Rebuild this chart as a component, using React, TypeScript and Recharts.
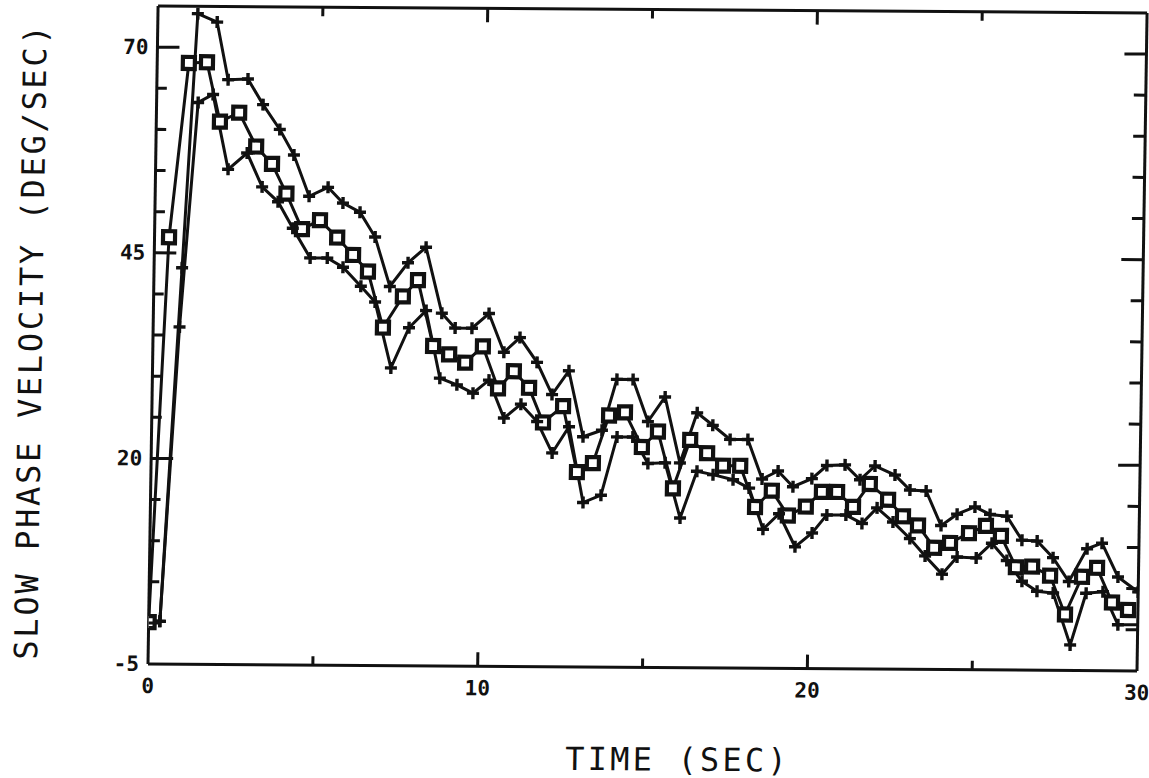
import React from 'react';
import { LineChart, Line, XAxis, YAxis } from 'recharts';

// slow phase eye velocity traces, sampled roughly every half second
const upperTime = [0.34, 0.85, 1.21, 1.8, 2.16, 2.76, 3.23, 3.75, 4.19, 4.67, 5.24, 5.7, 6.22, 6.69, 7.16, 7.7, 8.24, 8.75, 9.16, 9.67, 10.18, 10.65, 11.13, 11.66, 12.13, 12.63, 13.09, 13.66, 14.09, 14.58, 15.05, 15.56, 16.04, 16.54, 17.02, 17.55, 18.09, 18.54, 19.02, 19.48, 20.05, 20.5, 21.05, 21.51, 21.96, 22.57, 23.03, 23.52, 23.99, 24.47, 25.01, 25.47, 25.98, 26.45, 26.91, 27.4, 27.89, 28.43, 28.88, 29.38, 30.0];
const upperVel = [0.2, 43.2, 74.1, 73.1, 66.1, 66.2, 63.1, 60.1, 57.0, 52.0, 53.1, 51.2, 50.1, 47.1, 41.1, 44.0, 45.9, 37.9, 36.1, 36.1, 37.9, 33.2, 35.0, 32.0, 28.1, 31.0, 23.0, 23.8, 30.0, 30.0, 24.9, 27.9, 19.9, 26.0, 24.5, 22.8, 22.8, 18.0, 19.0, 17.1, 18.1, 19.7, 19.8, 18.0, 19.7, 18.6, 16.8, 16.7, 12.5, 13.9, 14.8, 13.9, 13.7, 10.8, 10.7, 8.7, 5.8, 9.8, 10.5, 6.4, 4.6];

const midTime = [0, 0.44, 0.96, 1.51, 1.93, 2.51, 3.04, 3.53, 3.98, 4.47, 5.01, 5.54, 6.03, 6.49, 6.97, 7.56, 8.01, 8.5, 8.99, 9.48, 10.01, 10.49, 10.96, 11.43, 11.87, 12.47, 12.92, 13.4, 13.87, 14.35, 14.88, 15.36, 15.84, 16.34, 16.86, 17.35, 17.87, 18.34, 18.84, 19.34, 19.88, 20.36, 20.82, 21.31, 21.81, 22.37, 22.83, 23.29, 23.79, 24.27, 24.84, 25.35, 25.81, 26.28, 26.77, 27.32, 27.79, 28.29, 28.74, 29.21, 29.7];
const midVel = [0.1, 46.9, 68.1, 68.2, 61.0, 62.1, 58.0, 55.9, 52.3, 48.0, 49.1, 47.0, 44.9, 42.9, 36.1, 39.9, 41.9, 33.9, 32.9, 31.9, 33.9, 28.8, 30.9, 28.9, 24.7, 26.7, 18.7, 19.8, 25.6, 26.0, 21.8, 23.7, 16.8, 22.7, 21.1, 19.6, 19.6, 14.6, 16.6, 13.6, 14.7, 16.5, 16.5, 14.7, 17.5, 15.6, 13.6, 12.5, 9.8, 10.4, 11.6, 12.5, 11.3, 7.5, 7.6, 6.5, 1.8, 6.4, 7.5, 3.3, 2.4];

const lowerTime = [0.34, 0.8, 1.26, 1.71, 2.2, 2.77, 3.24, 3.73, 4.19, 4.73, 5.25, 5.73, 6.28, 6.72, 7.23, 7.76, 8.27, 8.72, 9.24, 9.73, 10.21, 10.68, 11.19, 11.69, 12.16, 12.66, 13.12, 13.66, 14.12, 14.6, 15.07, 15.59, 16.07, 16.56, 17.05, 17.66, 18.15, 18.59, 19.07, 19.57, 20.08, 20.52, 21.1, 21.59, 22.04, 22.53, 23.05, 23.52, 24.04, 24.49, 25.07, 25.54, 26.0, 26.47, 26.93, 27.42, 27.96, 28.42, 28.93, 29.4, 30.0];
const lowerVel = [0.2, 36.0, 63.3, 64.3, 55.2, 57.2, 53.1, 51.3, 48.1, 44.5, 44.5, 43.4, 41.1, 39.2, 31.2, 36.1, 38.2, 30.0, 29.2, 28.2, 29.8, 25.2, 26.9, 24.8, 21.0, 24.2, 15.0, 15.9, 23.0, 23.0, 19.8, 19.9, 13.2, 18.9, 18.5, 17.9, 16.9, 11.9, 13.8, 9.8, 11.5, 13.7, 13.7, 12.7, 14.6, 12.9, 10.9, 8.8, 6.6, 8.7, 8.6, 10.4, 8.3, 5.8, 4.6, 4.4, -1.9, 4.4, 4.6, 0.6, 0.6];

const xTicks = [0, 5, 10, 15, 20, 25, 30];
const xLabels = [0, 10, 20, 30];
const yTicks = [0, 5, 10, 15, 20, 25, 30, 35, 40, 45, 50, 55, 60, 65, 70];
const yLabels = [-5, 20, 45, 70];

const toSeries = (ts: number[], vs: number[]) => ts.map((t, i) => ({ t, v: vs[i] }));
const upper = toSeries(upperTime, upperVel);
const middle = toSeries(midTime, midVel);
const lower = toSeries(lowerTime, lowerVel);

const INK = '#111';
const MONO = '"DejaVu Sans Mono", "Liberation Mono", monospace';
const frame = { stroke: INK, strokeWidth: 3 };

const PlusDot = (p: any) => {
  const { cx, cy, index, skipLast, count } = p;
  if (cx == null || cy == null) return <g key={index} />;
  if (skipLast && index === count - 1) return <g key={index} />;
  return (
    <g key={index}>
      <line x1={cx - 6} y1={cy} x2={cx + 6} y2={cy} stroke={INK} strokeWidth={3.4} />
      <line x1={cx} y1={cy - 6} x2={cx} y2={cy + 6} stroke={INK} strokeWidth={3.4} />
    </g>
  );
};

const SquareDot = (p: any) => {
  const { cx, cy, index } = p;
  if (cx == null || cy == null) return <g key={index} />;
  return <rect key={index} x={cx - 6} y={cy - 6} width={12} height={12} fill="#fff" stroke={INK} strokeWidth={4.2} />;
};

const tickText = { fontFamily: MONO, fontWeight: 700, fontSize: 21, fill: INK };

const BottomTick = ({ x, y, payload }: any) => {
  const v = payload.value;
  return (
    <g>
      {v > 0 && v < 30 && <line x1={x} y1={y} x2={x} y2={y - (v % 10 === 0 ? 14 : 9)} stroke={INK} strokeWidth={3} />}
      {xLabels.includes(v) && (
        <text x={x} y={y + 29} textAnchor="middle" {...tickText}>{v}</text>
      )}
    </g>
  );
};

const TopTick = ({ x, y, payload }: any) => {
  const v = payload.value;
  if (v <= 0 || v >= 30) return <g />;
  return <line x1={x} y1={y} x2={x} y2={y + (v % 10 === 0 ? 14 : 9)} stroke={INK} strokeWidth={3} />;
};

const LeftTick = ({ x, y, payload }: any) => {
  const v = payload.value;
  const major = yLabels.includes(v);
  return (
    <g>
      {v > -5 && <line x1={x} y1={y} x2={x + (major ? 22 : 10)} y2={y} stroke={INK} strokeWidth={3} />}
      {major && (
        <text x={x - 9} y={y + 7} textAnchor="end" {...tickText}>{v}</text>
      )}
    </g>
  );
};

const RightTick = ({ x, y, payload }: any) => {
  const v = payload.value;
  if (v <= -5) return <g />;
  const major = yLabels.includes(v);
  return <line x1={x} y1={y} x2={x - (major ? 22 : 12)} y2={y} stroke={INK} strokeWidth={3} />;
};

export default function App() {
  return (
    <div
      style={{
        position: 'absolute',
        left: 0,
        top: 0,
        width: 1149,
        height: 778,
        background: '#fff',
        transform: 'matrix(1, 0.007, -0.0153, 1, 0, 0)',
        transformOrigin: '148px 664px',
      }}
    >
      <LineChart width={1149} height={778} margin={{ top: 5, right: 11, bottom: 113, left: 147 }}>
        <XAxis
          xAxisId="b"
          dataKey="t"
          type="number"
          domain={[0, 30]}
          ticks={[...xTicks]}
          interval={0}
          height={1}
          tickSize={0}
          tickMargin={0}
          tickLine={false}
          axisLine={frame}
          tick={(p: any) => <BottomTick {...p} />}
          allowDataOverflow
        />
        <XAxis
          xAxisId="t"
          orientation="top"
          dataKey="t"
          type="number"
          domain={[0, 30]}
          ticks={[...xTicks]}
          interval={0}
          height={1}
          tickSize={0}
          tickMargin={0}
          tickLine={false}
          axisLine={frame}
          tick={(p: any) => <TopTick {...p} />}
          allowDataOverflow
        />
        <YAxis
          yAxisId="l"
          type="number"
          domain={[-5, 75]}
          ticks={[-5, ...yTicks]}
          interval={0}
          width={1}
          tickSize={0}
          tickMargin={0}
          tickLine={false}
          axisLine={frame}
          tick={(p: any) => <LeftTick {...p} />}
          allowDataOverflow
        />
        <YAxis
          yAxisId="r"
          orientation="right"
          type="number"
          domain={[-5, 75]}
          ticks={[...yTicks]}
          interval={0}
          width={1}
          tickSize={0}
          tickMargin={0}
          tickLine={false}
          axisLine={frame}
          tick={(p: any) => <RightTick {...p} />}
          allowDataOverflow
        />
        <Line
          xAxisId="b"
          yAxisId="l"
          data={upper}
          dataKey="v"
          type="linear"
          stroke={INK}
          strokeWidth={3}
          dot={(p: any) => <PlusDot {...p} />}
          activeDot={false}
          isAnimationActive={false}
        />
        <Line
          xAxisId="b"
          yAxisId="l"
          data={middle}
          dataKey="v"
          type="linear"
          stroke={INK}
          strokeWidth={3}
          dot={(p: any) => <SquareDot {...p} />}
          activeDot={false}
          isAnimationActive={false}
        />
        <Line
          xAxisId="b"
          yAxisId="l"
          data={lower}
          dataKey="v"
          type="linear"
          stroke={INK}
          strokeWidth={3}
          dot={(p: any) => <PlusDot {...p} skipLast count={lower.length} />}
          activeDot={false}
          isAnimationActive={false}
        />
        <text
          x={26}
          y={342}
          transform="rotate(-90 26 342)"
          textAnchor="middle"
          dominantBaseline="central"
          fontFamily={MONO}
          fontSize={32}
          letterSpacing={2.7}
          fill={INK}
        >
          SLOW PHASE VELOCITY (DEG/SEC)
        </text>
        <text
          x={679}
          y={767}
          textAnchor="middle"
          fontFamily={MONO}
          fontSize={32}
          letterSpacing={3.2}
          fill={INK}
        >
          TIME (SEC)
        </text>
      </LineChart>
    </div>
  );
}
